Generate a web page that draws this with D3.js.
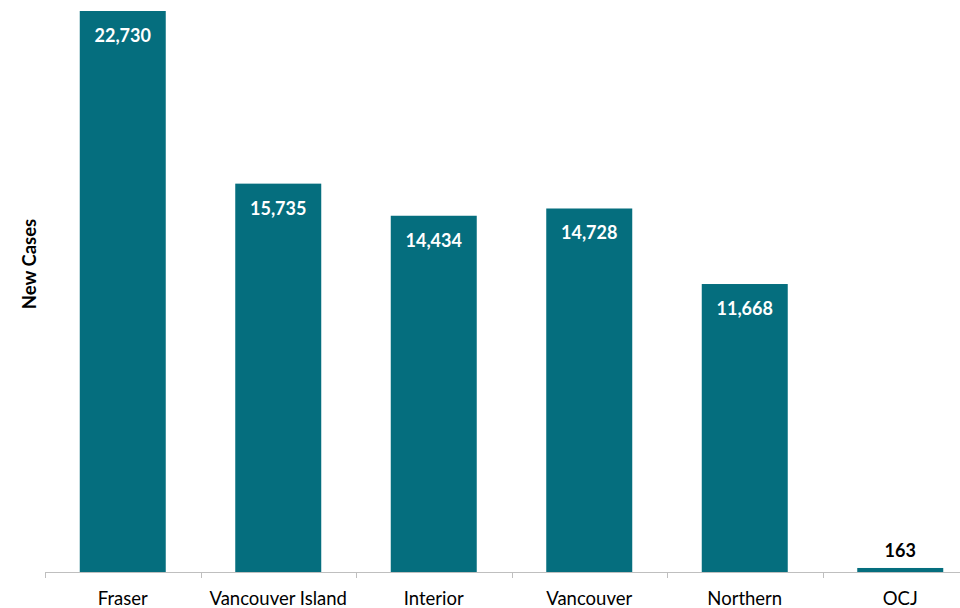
<!DOCTYPE html>
<html>
<head>
<meta charset="utf-8">
<script src="https://cdn.jsdelivr.net/npm/d3@7"></script>
<style>
  html, body { margin: 0; padding: 0; background: #fff; }
  svg { display: block; font-family: Lato, "Open Sans", sans-serif; }
</style>
</head>
<body>
<svg id="chart" width="960" height="608"></svg>
<script>
// New cases by health authority
const regions = ["Fraser", "Vancouver Island", "Interior", "Vancouver", "Northern", "OCJ"];
const newCases = [22730, 15735, 14434, 14728, 11668, 163];
const yLabel = "New Cases";

const svg = d3.select("#chart");
const baseY = 572;
const topY = 11;

const x = d3.scaleBand()
  .domain(regions)
  .range([45, 978])
  .paddingInner(0.447)
  .paddingOuter(0.2235);

const y = d3.scaleLinear()
  .domain([0, d3.max(newCases)])
  .range([baseY, topY]);

const data = regions.map((r, i) => ({ region: r, value: newCases[i] }));
const fmt = d3.format(",");
const barColor = "#056E7E";

// bars
svg.append("g").selectAll("rect")
  .data(data)
  .join("rect")
  .attr("x", d => x(d.region))
  .attr("y", d => y(d.value))
  .attr("width", x.bandwidth())
  .attr("height", d => baseY - y(d.value))
  .attr("fill", barColor);

// x axis: line with ticks at category boundaries
const axis = svg.append("g");
axis.append("line")
  .attr("x1", 45).attr("x2", 960)
  .attr("y1", baseY + 0.5).attr("y2", baseY + 0.5)
  .attr("stroke", "#bfbfbf").attr("stroke-width", 1);
const step = x.step();
const boundaries = d3.range(regions.length + 1).map(i => 45 + i * step);
axis.selectAll("line.tick")
  .data(boundaries)
  .join("line")
  .attr("class", "tick")
  .attr("x1", d => Math.round(d) + 0.5).attr("x2", d => Math.round(d) + 0.5)
  .attr("y1", baseY).attr("y2", baseY + 6)
  .attr("stroke", "#bfbfbf");

axis.selectAll("text")
  .data(regions)
  .join("text")
  .attr("x", d => x(d) + x.bandwidth() / 2)
  .attr("y", 605)
  .attr("text-anchor", "middle")
  .attr("font-size", 18.5)
  .attr("fill", "#000")
  .text(d => d);

// value labels: inside tall bars, above tiny ones
svg.append("g").selectAll("text")
  .data(data)
  .join("text")
  .attr("x", d => x(d.region) + x.bandwidth() / 2)
  .attr("y", d => (baseY - y(d.value) > 40) ? y(d.value) + 31 : y(d.value) - 11)
  .attr("text-anchor", "middle")
  .attr("font-size", 18)
  .attr("font-weight", "bold")
  .attr("fill", d => (baseY - y(d.value) > 40) ? "#fff" : "#000")
  .text(d => fmt(d.value));

// y axis title
svg.append("text")
  .attr("transform", "translate(36,264) rotate(-90)")
  .attr("text-anchor", "middle")
  .attr("font-size", 18.5)
  .attr("font-weight", "bold")
  .text(yLabel);
</script>
</body>
</html>
